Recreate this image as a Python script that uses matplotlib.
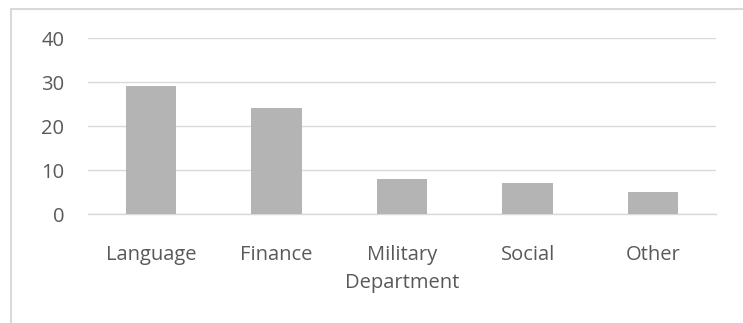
import matplotlib
matplotlib.use("Agg")
import matplotlib.pyplot as plt
from matplotlib.patches import Rectangle

categories = ["Language", "Finance", "Military\nDepartment", "Social", "Other"]
values = [29, 24, 8, 7, 5]
yticks = [0, 10, 20, 30, 40]

W, H = 743, 323
fig = plt.figure(figsize=(W / 100, H / 100), dpi=100)
fig.patch.set_facecolor("white")

# outer chart frame (left and top visible, runs off right/bottom)
fig.patches.append(Rectangle((11 / W, -0.1), 1.2, 1 - 9 / H + 0.1,
                             transform=fig.transFigure, fill=False,
                             edgecolor="#d9d9d9", linewidth=1.5))

ax = fig.add_axes([88 / W, 1 - 214 / H, (716 - 88) / W, (214 - 38) / H])
x = range(len(categories))
ax.bar(x, values, width=0.4, color="#b4b4b4", zorder=3)
ax.set_xlim(-0.5, len(categories) - 0.5)
ax.set_ylim(0, 40)
ax.set_yticks(yticks)
ax.set_xticks(list(x))
ax.set_xticklabels(categories, linespacing=1.5)
for s in ["top", "right", "left"]:
    ax.spines[s].set_visible(False)
ax.spines["bottom"].set_color("#d9d9d9")
ax.spines["bottom"].set_linewidth(1)
ax.grid(axis="y", color="#d9d9d9", linewidth=1, zorder=0)
ax.tick_params(length=0, colors="#595959", labelsize=14.5)
ax.tick_params(axis="y", pad=17)
ax.tick_params(axis="x", pad=22.5)
for lab in ax.get_xticklabels() + ax.get_yticklabels():
    lab.set_family("Open Sans")
    lab.set_color("#595959")

fig.savefig("out.png", dpi=100, facecolor="white")
